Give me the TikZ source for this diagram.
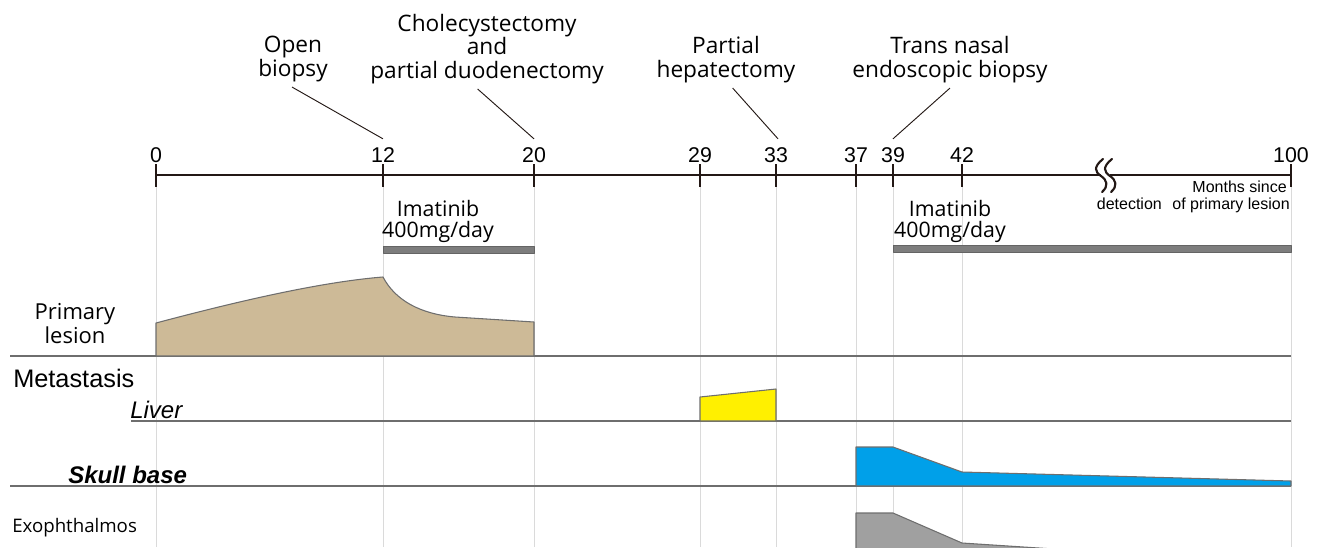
\documentclass[tikz,border=0pt]{standalone}
\usepackage{fontspec}
\setmainfont{Open Sans}
\newfontfamily\helv{Liberation Sans}
\usetikzlibrary{positioning}

\definecolor{axisblack}{HTML}{231815}
\definecolor{lesiontan}{HTML}{CDBA97}
\definecolor{liveryellow}{HTML}{FFF000}
\definecolor{skullblue}{HTML}{00A0E9}
\definecolor{exogray}{HTML}{A0A0A0}
\definecolor{edgegray}{HTML}{6E6E6E}
\definecolor{guidegray}{HTML}{DADADA}
\definecolor{bargray}{HTML}{7D7D7D}

\tikzset{
  ann/.style={align=center, inner sep=0pt, anchor=base, font=\fontsize{17}{17.5}\selectfont},
  ticklab/.style={inner sep=0pt, anchor=base, font=\helv\fontsize{16}{18}\selectfont},
  smalllab/.style={inner sep=0pt, font=\helv\fontsize{12}{14}\selectfont},
  axis/.style={axisblack, line width=1.8pt},
  breakmark/.style={axisblack, line width=1.6pt, line cap=round},
  leader/.style={axisblack, line width=0.7pt},
  guide/.style={guidegray, line width=0.6pt},
  rowline/.style={edgegray, line width=1.2pt},
  lesion/.style={draw=edgegray, line width=0.8pt},
  drugbar/.style={fill=bargray, draw=bargray!80!black, line width=0.4pt},
}

\begin{document}
\begin{tikzpicture}[x=0.75pt, y=-0.75pt, line join=round]
  \useasboundingbox (0,0) rectangle (1325,547);

  % --- Time axis with ticks and guide lines ---
  \foreach \m/\px in {0/156,12/383,20/534,29/700,33/776,37/856,39/893,42/962,100/1291}{
    \coordinate (t\m) at (\px,175);
    \draw[guide] (\px,187) -- (\px,547);
    \draw[axis] (\px,164) -- (\px,187);
    \node[ticklab] (lab\m) at (\px,162) {\m};
  }
  \coordinate (breakl) at (1101,175);
  \coordinate (breakr) at (1110,175);
  \draw[axis] (t0) -- (breakl);
  \draw[axis] (breakr) -- (t100);
  \draw[breakmark] (1103,159) .. controls (1093,167) and (1095,172) .. (1101,176)
    .. controls (1107,180) and (1109,186) .. (1102,192);
  \draw[breakmark] (1112,159) .. controls (1102,167) and (1104,172) .. (1110,176)
    .. controls (1116,180) and (1118,186) .. (1111,192);

  \node[smalllab, anchor=base east] (months) at (1287,192) {Months since};
  \node[smalllab, anchor=base east] (ofprimary) at (1290,209) {of primary lesion};
  \node[smalllab, base left=7.5pt of ofprimary] (detection) {detection};

  % --- Procedures ---
  \node[ann] (openbiopsy) at (293,76) {Open\\biopsy};
  \node[ann] (chole) at (487,78) {Cholecystectomy\\and\\partial duodenectomy};
  \node[ann] (hepat) at (726,77) {Partial\\hepatectomy};
  \node[ann] (transnasal) at (950,77) {Trans nasal\\endoscopic biopsy};

  \draw[leader] ([xshift=-0.75pt, yshift=-4pt]openbiopsy.south) -- ([yshift=6pt]lab12.north);
  \draw[leader] ([xshift=-7pt, yshift=-4pt]chole.south) -- ([yshift=6pt]lab20.north);
  \draw[leader] ([xshift=5pt, yshift=-4pt]hepat.south) -- ([xshift=1.5pt, yshift=6pt]lab33.north);
  \draw[leader] ([yshift=-4pt]transnasal.south) -- ([yshift=6pt]lab39.north);

  % --- Imatinib ---
  \node[ann, font=\fontsize{16}{15.75}\selectfont] (imat1) at (438,237) {Imatinib\\400mg/day};
  \node[ann, font=\fontsize{16}{15.75}\selectfont] (imat2) at (950,237) {Imatinib\\400mg/day};
  \filldraw[drugbar] (383,246) rectangle (534,253);
  \filldraw[drugbar] (893,245) rectangle (1291,252);

  % --- Rows ---
  \draw[rowline] (10,356) -- (1291,356);
  \draw[rowline] (131,421) -- (1291,421);
  \draw[rowline] (10,486) -- (1291,486);

  \node[ann, font=\fontsize{16.5}{15.5}\selectfont] (primary) at (75,343) {Primary\\lesion};
  \node[inner sep=0pt, anchor=base west, font=\helv\fontsize{19}{21}\selectfont] (metastasis) at (13,387) {Metastasis};
  \node[inner sep=0pt, anchor=base west, font=\helv\itshape\fontsize{18}{20}\selectfont] (liver) at (130,418) {Liver};
  \node[inner sep=0pt, anchor=base west, font=\helv\bfseries\itshape\fontsize{18}{20}\selectfont] (skull) at (68,483) {Skull base};
  \node[inner sep=0pt, anchor=base west, font=\fontsize{14}{16}\selectfont] (exo) at (12,532) {Exophthalmos};

  % --- Lesion sizes ---
  \filldraw[lesion, fill=lesiontan] (156,356) -- (156,323) .. controls (235,302) and (320,282) .. (383,277)
    .. controls (395,300) and (420,314) .. (455,317) -- (534,322) -- (534,356) -- cycle;
  \filldraw[lesion, fill=liveryellow] (700,421) -- (700,397) -- (776,389) -- (776,421) -- cycle;
  \filldraw[lesion, fill=skullblue] (856,486) -- (856,447) -- (893,447) -- (962,472) -- (1291,481) -- (1291,486) -- cycle;
  \begin{scope}
    \clip (0,0) rectangle (1325,547);
    \filldraw[lesion, fill=exogray] (856,560) -- (856,513) -- (893,513) -- (962,543) -- (1100,552) -- (1100,560) -- cycle;
  \end{scope}
\end{tikzpicture}
\end{document}
